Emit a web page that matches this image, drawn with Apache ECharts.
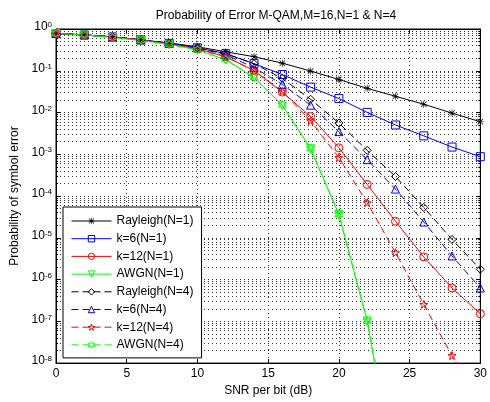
<!DOCTYPE html>
<html><head><meta charset="utf-8">
<script src="https://cdn.jsdelivr.net/npm/echarts@6/dist/echarts.min.js"></script>
<style>html,body{margin:0;padding:0;background:#fff}#c{width:490px;height:402px}</style>
</head><body><div id="c"></div>
<script>
// ---- data ----
const snrDb = [0, 2, 4, 6, 8, 10, 12, 14, 16, 18, 20, 22, 24, 26, 28, 30];
const rayleighN1 = [0.782, 0.721, 0.646, 0.549, 0.466, 0.375, 0.285, 0.217, 0.152, 0.0985, 0.0619, 0.0379, 0.0245, 0.0158, 0.00968, 0.00602];
const k6N1 = [0.782, 0.721, 0.646, 0.549, 0.453, 0.355, 0.256, 0.148, 0.0813, 0.0406, 0.0216, 0.01005, 0.00503, 0.00276, 0.00149, 0.000877];
const k12N1 = [0.782, 0.721, 0.646, 0.549, 0.441, 0.336, 0.217, 0.101, 0.0309, 0.00808, 0.00143, 0.00019, 2.49e-5, 3.49e-6, 6.29e-7, 1.52e-7];
const awgnN1 = [0.782, 0.721, 0.629, 0.534, 0.429, 0.318, 0.184, 0.069, 0.015, 0.00136, 3.6e-5, 1.02e-7, 1.7e-11, null, null, null];
const rayleighN4 = [0.782, 0.721, 0.646, 0.549, 0.453, 0.355, 0.256, 0.148, 0.0653, 0.0208, 0.00561, 0.00124, 0.000294, 5.34e-5, 9.1e-6, 1.77e-6];
const k6N4 = [0.782, 0.721, 0.646, 0.549, 0.453, 0.355, 0.242, 0.119, 0.0471, 0.015, 0.00349, 0.000745, 0.000147, 2.39e-5, 3.68e-6, 6.29e-7];
const k12N4 = [0.782, 0.721, 0.646, 0.549, 0.441, 0.336, 0.217, 0.101, 0.0321, 0.00636, 0.000831, 6.94e-5, 4.41e-6, 2.54e-7, 1.51e-8, 1e-9];
const awgnN4 = [0.782, 0.721, 0.629, 0.534, 0.429, 0.318, 0.184, 0.069, 0.015, 0.00136, 3.6e-5, 1.02e-7, 1.7e-11, null, null, null];
const seriesNames = ['Rayleigh(N=1)', 'k=6(N=1)', 'k=12(N=1)', 'AWGN(N=1)', 'Rayleigh(N=4)', 'k=6(N=4)', 'k=12(N=4)', 'AWGN(N=4)'];
const titleText = 'Probability of Error M-QAM,M=16,N=1 & N=4';
const xName = 'SNR per bit (dB)';
const yName = 'Probability of symbol error';

// ---- styling ----
const FONT = '"Liberation Sans", Arial, Helvetica, sans-serif';
const asteriskPath = 'path://M4.5 0h1v10h-1z M0 4.5h10v1h-10z M0.7 1.4L1.4 0.7L9.3 8.6L8.6 9.3Z M8.6 0.7L9.3 1.4L1.4 9.3L0.7 8.6Z';
const pentagramPath = 'path://M50 0L61.23 34.55L97.55 34.55L68.17 55.9L79.39 90.45L50 69.1L20.61 90.45L31.83 55.9L2.45 34.55L38.77 34.55Z';
const hexagramPath = 'path://M50 0L64.43 25L93.3 25L78.87 50L93.3 75L64.43 75L50 100L35.57 75L6.7 75L21.13 50L6.7 25L35.57 25Z';
const CLEAR = 'rgba(255,255,255,0)';
const DASH = [7, 4];

function pairs(vals) { return snrDb.map((x, i) => [x, vals[i]]); }

const specs = [
  { vals: rayleighN1, color: '#000000', symbol: asteriskPath, size: 7, dashed: false, filled: true },
  { vals: k6N1, color: '#0000ff', symbol: 'rect', size: 8, dashed: false, filled: false },
  { vals: k12N1, color: '#ff0000', symbol: 'circle', size: 8, dashed: false, filled: false },
  { vals: awgnN1, color: '#00ff00', symbol: 'triangle', size: 8, dashed: false, filled: false, rotate: 180 },
  { vals: rayleighN4, color: '#000000', symbol: 'diamond', size: 8, dashed: true, filled: false },
  { vals: k6N4, color: '#0000ff', symbol: 'triangle', size: 8, dashed: true, filled: false },
  { vals: k12N4, color: '#ff0000', symbol: pentagramPath, size: 8, dashed: true, filled: false },
  { vals: awgnN4, color: '#00ff00', symbol: hexagramPath, size: 8, dashed: true, filled: false }
];

function itemStyleOf(s) {
  return { color: s.filled ? s.color : CLEAR, borderColor: s.color, borderWidth: s.filled ? 0 : 1 };
}
function lineStyleOf(s) {
  return { color: s.color, width: 1, type: s.dashed ? DASH : 'solid' };
}

const series = specs.map((s, i) => ({
  name: seriesNames[i], type: 'line', data: pairs(s.vals),
  symbol: s.symbol, symbolSize: s.size, symbolRotate: s.rotate || 0,
  showSymbol: true, connectNulls: false, clip: true,
  lineStyle: lineStyleOf(s), itemStyle: itemStyleOf(s),
  emphasis: { disabled: true }, animation: false
}));

const legendData = specs.map((s, i) => ({
  name: seriesNames[i],
  itemStyle: itemStyleOf(s), lineStyle: lineStyleOf(s)
}));

const gridDots = { type: [1, 3], color: '#333', width: 1 };

const chart = echarts.init(document.getElementById('c'), null, { renderer: 'canvas' });
chart.setOption({
  animation: false,
  backgroundColor: '#fff',
  textStyle: { fontFamily: FONT },
  title: {
    text: titleText, left: 271, top: 5, textAlign: 'center',
    textStyle: { fontSize: 12, fontWeight: 'normal', color: '#000', fontFamily: FONT }
  },
  grid: { left: 56, right: 4, top: 29, bottom: 35, show: true, borderColor: '#000', borderWidth: 1, backgroundColor: '#fff', containLabel: false },
  legend: {
    data: legendData, orient: 'vertical', left: 63, top: 207,
    itemWidth: 40, itemHeight: 8, itemGap: 5.7,
    padding: [8, 8, 7, 8],
    backgroundColor: '#fff', borderColor: '#000', borderWidth: 1, borderRadius: 0,
    textStyle: { fontSize: 12, color: '#000', fontFamily: FONT },
    selectedMode: false
  },
  xAxis: [{
    type: 'value', min: 0, max: 30, interval: 5, position: 'bottom',
    name: xName, nameLocation: 'middle', nameGap: 19,
    nameTextStyle: { fontSize: 12, color: '#000', fontFamily: FONT },
    axisLine: { show: true, onZero: false, lineStyle: { color: '#000', width: 1 } },
    axisTick: { show: true, inside: true, length: 4, lineStyle: { color: '#000' } },
    axisLabel: { color: '#000', fontSize: 12, margin: 5, fontFamily: FONT },
    splitLine: { show: true, lineStyle: gridDots }
  }, {
    type: 'value', min: 0, max: 30, interval: 5, position: 'top',
    axisLine: { show: true, onZero: false, lineStyle: { color: '#000', width: 1 } },
    axisTick: { show: true, inside: true, length: 4, lineStyle: { color: '#000' } },
    axisLabel: { show: false }, splitLine: { show: false }
  }],
  yAxis: [{
    type: 'log', logBase: 10, min: 1e-8, max: 1, splitNumber: 8, position: 'left',
    name: yName, nameLocation: 'middle', nameGap: 33, nameRotate: 90,
    nameTextStyle: { fontSize: 12, color: '#000', fontFamily: FONT },
    axisLine: { show: true, onZero: false, lineStyle: { color: '#000', width: 1 } },
    axisTick: { show: true, inside: true, length: 4, lineStyle: { color: '#000' } },
    minorTick: { show: true, splitNumber: 9, length: 2, lineStyle: { color: '#000' } },
    axisLabel: {
      color: '#000', margin: 4, padding: [0, 0, 4, 0],
      formatter: v => '{b|10}{s|' + Math.round(Math.log10(v)) + '}',
      rich: {
        b: { fontSize: 12, lineHeight: 12, verticalAlign: 'bottom', fontFamily: FONT, color: '#000' },
        s: { fontSize: 8, lineHeight: 8, verticalAlign: 'top', padding: [0, 0, 8, 0], fontFamily: FONT, color: '#000' }
      }
    },
    splitLine: { show: true, lineStyle: gridDots },
    minorSplitLine: { show: true, lineStyle: gridDots }
  }, {
    type: 'log', logBase: 10, min: 1e-8, max: 1, splitNumber: 8, position: 'right',
    axisLine: { show: true, onZero: false, lineStyle: { color: '#000', width: 1 } },
    axisTick: { show: true, inside: true, length: 4, lineStyle: { color: '#000' } },
    minorTick: { show: true, splitNumber: 9, length: 2, lineStyle: { color: '#000' } },
    axisLabel: { show: false }, splitLine: { show: false }
  }],
  series
});
</script></body></html>
